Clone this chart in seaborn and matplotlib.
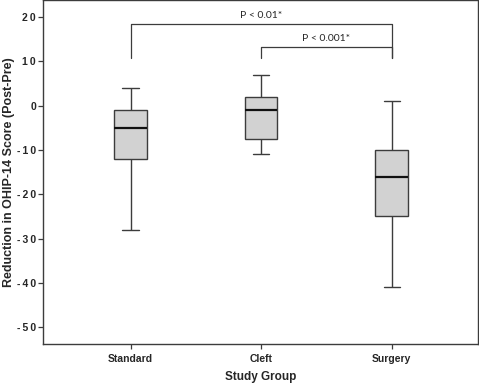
import pandas as pd
import seaborn as sns
import matplotlib.pyplot as plt

# five-number summaries (min, q1, median, q3, max)
groups = ['Standard', 'Cleft', 'Surgery']
standard = [-28, -12, -5, -1, 4]
cleft = [-11, -7.5, -1, 2, 7]
surgery = [-41, -25, -16, -10, 1]

yticks = [-50, -40, -30, -20, -10, 0, 10, 20]
ytick_labels = ['-\u20095\u20090', '-\u20094\u20090', '-\u20093\u20090', '-\u20092\u20090',
                '-\u20091\u20090', '0', '1\u20090', '2\u20090']

df = pd.DataFrame({
    'Study Group': ['Standard'] * 5 + ['Cleft'] * 5 + ['Surgery'] * 5,
    'Score': standard + cleft + surgery,
})

sns.set_style('ticks')
plt.rcParams['font.family'] = ['Liberation Sans', 'DejaVu Sans']

fig = plt.figure(figsize=(4.79, 3.83), dpi=100)
ax = fig.add_axes([0.0898, 0.102, 0.908, 0.897])

edge = '#3c3c3c'
sns.boxplot(data=df, x='Study Group', y='Score', order=groups, ax=ax,
            width=0.25, color='#d2d2d2', whis=1.5, linewidth=1.0,
            boxprops=dict(facecolor='#d2d2d2', edgecolor=edge),
            whiskerprops=dict(color=edge), capprops=dict(color=edge),
            medianprops=dict(color='#111111', linewidth=1.6),
            showfliers=False)

ax.set_xlim(-0.67, 2.66)
ax.set_ylim(-53.8, 23.8)
ax.set_yticks(yticks)
ax.set_yticklabels(ytick_labels, fontsize=7.5, fontweight='bold')
for lab in ax.get_xticklabels():
    lab.set_fontsize(7.5)
    lab.set_fontweight('bold')

for s in ax.spines.values():
    s.set_visible(True)
    s.set_color(edge)
    s.set_linewidth(1.0)
ax.tick_params(axis='both', length=3.5, width=0.9, color=edge, pad=1.5)
ax.tick_params(axis='x', pad=4)

ax.set_xlabel('Study Group', fontsize=8.5, fontweight='bold', labelpad=5)
ax.set_ylabel('Reduction in OHIP-14 Score (Post-Pre)', fontsize=9, fontweight='bold')
ax.yaxis.set_label_coords(-0.064, 0.5)

# significance brackets
bk = dict(color=edge, linewidth=0.9)
ax.plot([0, 0, 2, 2], [10.8, 18.5, 18.5, 10.8], **bk)
ax.plot([1, 1, 2, 2], [10.8, 13.3, 13.3, 10.8], **bk)
ax.text(1.0, 19.3, 'P < 0.01*', ha='center', va='bottom', fontsize=7.5, family=['Lato', 'DejaVu Sans'])
ax.text(1.5, 14.1, 'P < 0.001*', ha='center', va='bottom', fontsize=7.5, family=['Lato', 'DejaVu Sans'])

fig.savefig('out.png', dpi=100)
